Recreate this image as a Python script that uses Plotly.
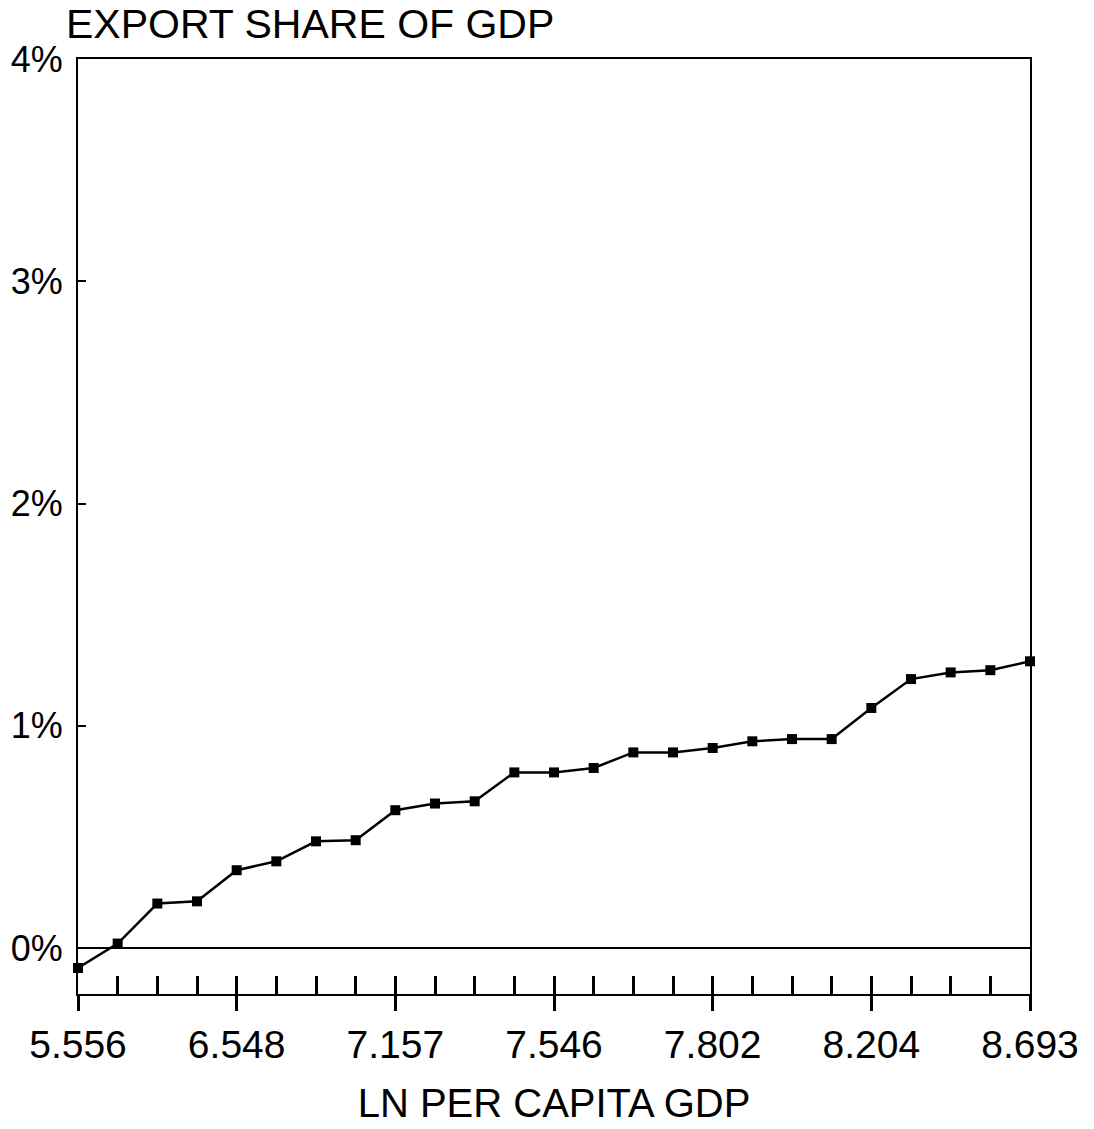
import plotly.graph_objects as go

# Data (25 equally spaced income groups)
point_index = list(range(25))
export_share = [-0.09, 0.02, 0.20, 0.21, 0.35, 0.39, 0.48, 0.485, 0.62, 0.65, 0.66,
                0.79, 0.79, 0.81, 0.88, 0.88, 0.90, 0.93, 0.94, 0.94, 1.08, 1.21,
                1.24, 1.25, 1.29]
x_tick_positions = [0, 4, 8, 12, 16, 20, 24]
x_tick_labels = ["5.556", "6.548", "7.157", "7.546", "7.802", "8.204", "8.693"]
y_tick_values = [0, 1, 2, 3, 4]
y_tick_labels = ["0%", "1%", "2%", "3%", "4%"]

FONT = "Liberation Sans, Arial, sans-serif"

fig = go.Figure()
fig.add_trace(go.Scatter(
    x=point_index, y=export_share, mode="lines+markers",
    line=dict(color="black", width=2.5),
    marker=dict(symbol="square", size=10, color="black"),
    showlegend=False, cliponaxis=False,
))
# invisible trace on overlay axis (for inward minor ticks)
fig.add_trace(go.Scatter(
    x=point_index, y=export_share, mode="lines", xaxis="x2",
    line=dict(width=0), opacity=0, hoverinfo="skip", showlegend=False,
))

fig.update_layout(
    width=1094, height=1129,
    margin=dict(l=78, r=64, t=59, b=135),
    paper_bgcolor="white", plot_bgcolor="white",
    font=dict(family=FONT, color="black"),
    title=dict(text="EXPORT SHARE OF GDP", font=dict(size=41, family=FONT),
               x=66 / 1094, xanchor="left", xref="container", y=1 - 24 / 1129,
               yanchor="middle", yref="container"),
    xaxis=dict(
        range=[0, 24], tickmode="array", tickvals=x_tick_positions, ticktext=x_tick_labels,
        ticks="outside", ticklen=15, tickwidth=2.5, tickcolor="black",
        showline=True, linecolor="black", linewidth=2, mirror=True,
        showgrid=False, zeroline=False,
        tickfont=dict(size=39, family=FONT),
        title=dict(text="LN PER CAPITA GDP", font=dict(size=40, family=FONT), standoff=24),
    ),
    xaxis2=dict(
        range=[0, 24], overlaying="x", anchor="y", side="bottom",
        tickmode="linear", tick0=0, dtick=1, ticks="inside", ticklen=18, tickwidth=2.5,
        tickcolor="black", showticklabels=False, showgrid=False, zeroline=False,
        showline=False,
    ),
    yaxis=dict(
        range=[-0.207, 4], tickmode="array", tickvals=y_tick_values, ticktext=y_tick_labels,
        ticks="inside", ticklen=8, tickwidth=2, tickcolor="black",
        showline=True, linecolor="black", linewidth=2, mirror=True,
        showgrid=False, zeroline=True, zerolinecolor="black", zerolinewidth=2,
        tickfont=dict(size=36, family=FONT), ticklabelstandoff=6,
    ),
)

fig.write_html("out.html")
